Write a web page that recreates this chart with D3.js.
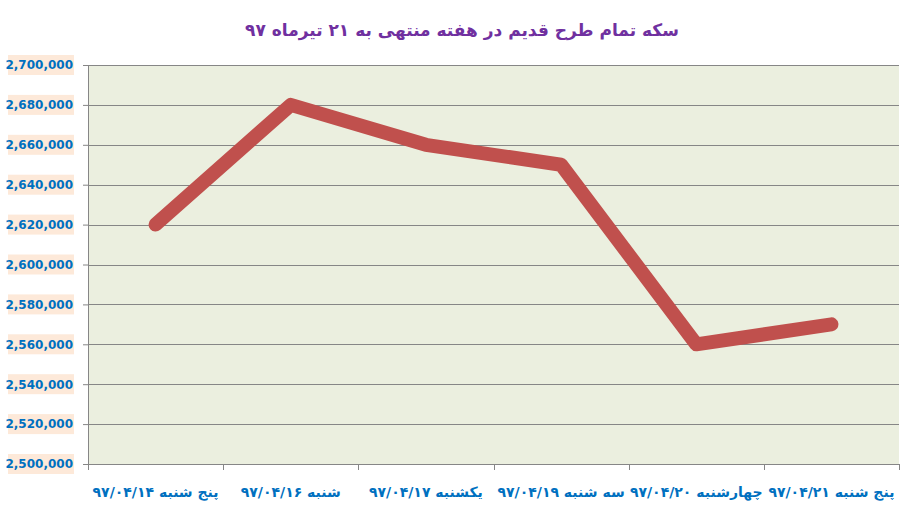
<!DOCTYPE html>
<html>
<head>
<meta charset="utf-8">
<script src="https://cdn.jsdelivr.net/npm/d3@7"></script>
<style>
  body { margin: 0; background: #fff; }
  svg { display: block; }
</style>
</head>
<body>
<div id="chart"></div>
<script>
// data
var titleText = "سکه تمام طرح قدیم در هفته منتهی به ۲۱ تیرماه ۹۷";
var days = [
  "پنج شنبه ۹۷/۰۴/۱۴",
  "شنبه ۹۷/۰۴/۱۶",
  "یکشنبه ۹۷/۰۴/۱۷",
  "سه شنبه ۹۷/۰۴/۱۹",
  "چهارشنبه ۹۷/۰۴/۲۰",
  "پنج شنبه ۹۷/۰۴/۲۱"
];
var prices = [2620000, 2680000, 2660000, 2650000, 2560000, 2570000];
var yTicks = [2500000, 2520000, 2540000, 2560000, 2580000, 2600000,
              2620000, 2640000, 2660000, 2680000, 2700000];

var W = 914, H = 514;
var margin = {top: 65, right: 16, bottom: 50, left: 88},
    width = 899 - margin.left,
    height = 464 - margin.top;

var svg = d3.select("#chart")
  .append("svg")
    .attr("width", W)
    .attr("height", H);

// title
svg.append("text")
  .attr("x", 462)
  .attr("y", 36)
  .attr("text-anchor", "middle")
  .attr("direction", "rtl")
  .style("font-family", "DejaVu Sans, sans-serif")
  .style("font-weight", "bold")
  .style("font-size", "17px")
  .style("fill", "#7030A0")
  .text(titleText);

var g = svg.append("g")
  .attr("transform", "translate(" + margin.left + "," + margin.top + ")");

var x = d3.scaleBand()
  .domain(days)
  .range([0, width]);

var y = d3.scaleLinear()
  .domain([2500000, 2700000])
  .range([height, 0]);

// plot background
g.append("rect")
  .attr("width", width)
  .attr("height", height)
  .style("fill", "#EBEFDF");

// gridlines
g.append("g")
  .selectAll("line")
  .data(yTicks.slice(1))
  .enter()
  .append("line")
    .attr("x1", 0)
    .attr("x2", width)
    .attr("y1", function(d){ return Math.round(y(d)) + 0.5; })
    .attr("y2", function(d){ return Math.round(y(d)) + 0.5; })
    .style("stroke", "#868686")
    .style("stroke-width", 1);

// y axis
var yAxis = g.append("g")
  .call(d3.axisLeft(y).tickValues(yTicks).tickSize(5).tickPadding(0).tickFormat(function(){ return ""; }));
yAxis.select(".domain").style("stroke", "#868686");
yAxis.selectAll(".tick line").style("stroke", "#868686");

var fmt = d3.format(",");
var yLab = g.append("g")
  .selectAll("g")
  .data(yTicks)
  .enter()
  .append("g")
    .attr("transform", function(d){ return "translate(-14," + y(d) + ")"; });
yLab.append("rect")
  .attr("x", -66)
  .attr("y", -10)
  .attr("width", 66)
  .attr("height", 20)
  .style("fill", "#FDE9D9");
yLab.append("text")
  .attr("x", -1)
  .attr("dy", "0.36em")
  .attr("text-anchor", "end")
  .style("font-family", "DejaVu Sans, sans-serif")
  .style("font-weight", "bold")
  .style("font-size", "12px")
  .style("fill", "#0070C0")
  .text(function(d){ return fmt(d); });

// x axis
var xAxis = g.append("g")
  .attr("transform", "translate(0," + height + ")")
  .call(d3.axisBottom(x).tickSize(0).tickFormat(""));
xAxis.select(".domain").style("stroke", "#868686");

// category separators
g.append("g")
  .selectAll("line")
  .data(d3.range(days.length + 1))
  .enter()
  .append("line")
    .attr("x1", function(i){ return Math.round(i * x.step()) + 0.5; })
    .attr("x2", function(i){ return Math.round(i * x.step()) + 0.5; })
    .attr("y1", height)
    .attr("y2", height + 6)
    .style("stroke", "#868686");

g.append("g")
  .selectAll("text")
  .data(days)
  .enter()
  .append("text")
    .attr("x", function(d){ return x(d) + x.bandwidth() / 2; })
    .attr("y", height + 33)
    .attr("text-anchor", "middle")
    .attr("direction", "rtl")
    .style("font-family", "DejaVu Sans, sans-serif")
    .style("font-weight", "bold")
    .style("font-size", "14px")
    .style("fill", "#0070C0")
    .text(function(d){ return d; });

// the line
var line = d3.line()
  .x(function(d, i){ return x(days[i]) + x.bandwidth() / 2; })
  .y(function(d){ return y(d); });

g.append("path")
  .datum(prices)
  .attr("d", line)
  .style("fill", "none")
  .style("stroke", "#C0504D")
  .style("stroke-width", 14)
  .style("stroke-linecap", "round")
  .style("stroke-linejoin", "round");
</script>
</body>
</html>
